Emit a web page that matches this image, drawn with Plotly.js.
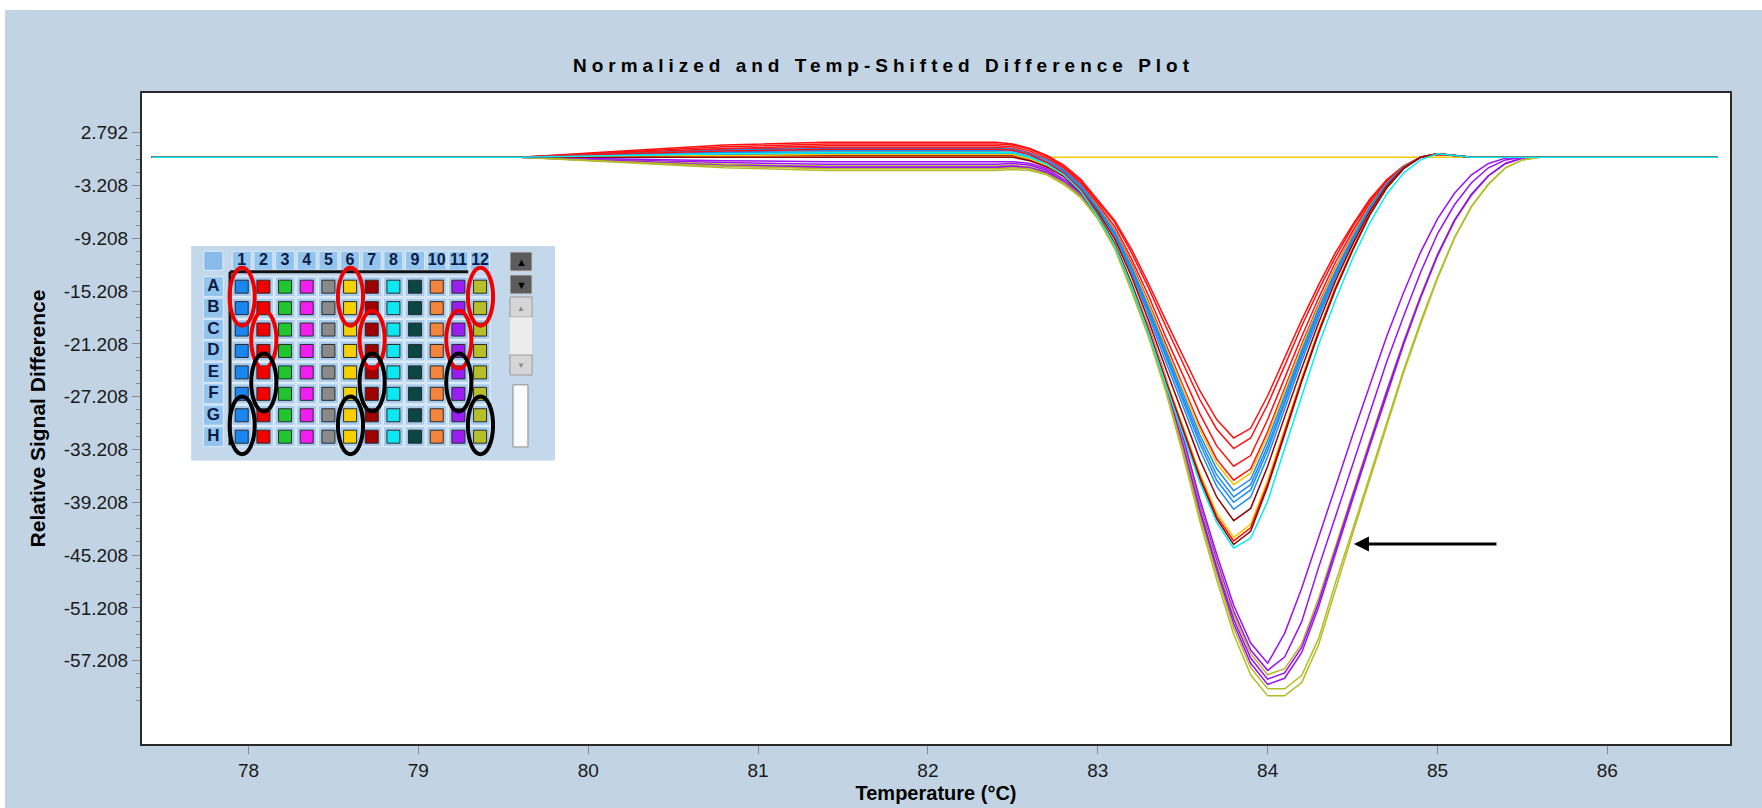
<!DOCTYPE html>
<html>
<head>
<meta charset="utf-8">
<script src="https://cdn.plot.ly/plotly-3.0.1.min.js"></script>
<style>
html,body{margin:0;padding:0;background:#ffffff;width:1762px;height:808px;overflow:hidden}
#chart{position:absolute;left:5px;top:10px;width:1757px;height:798px}
.gtitle{letter-spacing:5px}
</style>
</head>
<body>
<div id="chart"></div>
<script>
// ---------- data ----------
const temperature = [77.43,79.6,80.2,80.8,81.4,82.0,82.4,82.5,82.6,82.7,82.8,82.9,83.0,83.1,83.2,83.3,83.4,83.5,83.6,83.7,83.8,83.9,84.0,84.1,84.2,84.3,84.4,84.5,84.6,84.7,84.8,84.9,85.0,85.1,85.2,85.3,85.4,85.5,85.6,86.65];

const goldFlat = [0,0,0,0,0,0,0,0,0,0,0,0,0,0,0,0,0,0,0,0,0,0,0,0,0,0,0,0,0,0,0,0,0,0,0,0,0,0,0,0];

const purple1 = [0,0,-0.2,-0.4,-0.5,-0.5,-0.5,-0.5,-0.7,-1.3,-2.5,-4.1,-6.6,-9.8,-14.4,-19.3,-25.0,-31.6,-38.8,-45.1,-50.9,-55.2,-57.5,-54.1,-49.0,-43.1,-37.4,-31.6,-25.9,-20.4,-15.4,-10.8,-7.0,-4.1,-2.0,-0.7,-0.1,0,0,0];
const purple2 = [0,0,-0.3,-0.6,-0.8,-0.8,-0.8,-0.7,-0.9,-1.5,-2.7,-4.2,-6.7,-9.9,-14.6,-19.5,-25.4,-32.1,-39.4,-45.8,-51.6,-56.0,-58.3,-56.8,-52.8,-46.6,-40.8,-35.0,-29.2,-23.3,-18.1,-13.1,-8.7,-5.4,-2.9,-1.2,-0.3,0,0,0];
const olive1  = [0,0,-0.4,-0.8,-1.0,-1.0,-1.0,-0.9,-1.1,-1.7,-2.8,-4.3,-6.8,-10.0,-14.7,-19.7,-25.6,-32.3,-39.7,-46.2,-52.0,-56.4,-58.8,-58.1,-55.3,-50.1,-44.1,-38.2,-32.3,-26.5,-20.9,-15.7,-11.0,-7.1,-4.2,-2.1,-0.7,-0.1,0,0];
const purple3 = [0,0,-0.4,-0.9,-1.1,-1.1,-1.1,-1.0,-1.2,-1.7,-2.8,-4.4,-6.8,-10.1,-14.8,-19.9,-25.8,-32.6,-40.0,-46.6,-52.5,-56.9,-59.3,-58.6,-55.7,-50.6,-44.5,-38.5,-32.6,-26.7,-21.1,-15.9,-11.1,-7.2,-4.2,-2.1,-0.7,-0.1,0,0];
const purple4 = [0,0,-0.5,-1.0,-1.2,-1.2,-1.2,-1.1,-1.3,-1.8,-2.9,-4.4,-6.9,-10.2,-15.0,-20.1,-26.1,-32.9,-40.4,-47.0,-53.0,-57.5,-59.9,-59.2,-56.3,-51.1,-44.9,-38.9,-32.9,-27.0,-21.3,-16.0,-11.2,-7.2,-4.3,-2.1,-0.7,-0.1,0,0];
const olive2  = [0,0,-0.5,-1.0,-1.3,-1.3,-1.3,-1.2,-1.3,-1.9,-2.9,-4.5,-6.9,-10.3,-15.1,-20.2,-26.3,-33.2,-40.8,-47.4,-53.5,-58.0,-60.4,-60.4,-58.9,-54.7,-48.3,-42.3,-36.2,-30.2,-24.2,-18.7,-13.6,-9.1,-5.6,-3.0,-1.2,-0.3,0,0];
const olive3  = [0,0,-0.6,-1.2,-1.5,-1.5,-1.5,-1.4,-1.5,-2.0,-3.1,-4.6,-7.0,-10.4,-15.3,-20.5,-26.6,-33.7,-41.3,-48.0,-54.2,-58.8,-61.2,-61.2,-59.7,-55.4,-49.0,-42.8,-36.7,-30.6,-24.5,-19.0,-13.8,-9.2,-5.6,-3.1,-1.2,-0.3,0,0];

const red1    = [0,0,0.7,1.4,1.7,1.7,1.7,1.5,1.0,0.2,-0.9,-2.5,-4.8,-7.2,-10.5,-14.4,-18.5,-22.5,-26.5,-29.8,-31.9,-30.8,-27.1,-22.8,-18.5,-14.5,-10.8,-7.7,-4.8,-2.6,-1.0,0,0.3,0.2,0,0,0,0,0,0];
const red2    = [0,0,0.6,1.2,1.5,1.5,1.5,1.4,0.9,0.1,-1.1,-2.7,-5.0,-7.4,-10.9,-14.9,-19.2,-23.3,-27.5,-30.9,-33.1,-31.9,-28.1,-23.7,-19.2,-15.1,-11.3,-7.9,-5.0,-2.6,-1.0,0,0.3,0.2,0,0,0,0,0,0];
const red3    = [0,0,0.5,1.0,1.3,1.3,1.3,1.2,0.7,-0.1,-1.2,-2.9,-5.3,-7.9,-11.6,-15.8,-20.4,-24.7,-29.1,-32.8,-35.1,-33.9,-29.8,-25.1,-20.4,-16.0,-11.9,-8.4,-5.3,-2.8,-1.1,0,0.3,0.2,0,0,0,0,0,0];
const red4    = [0,0,0.4,0.9,1.1,1.1,1.1,1.0,0.5,-0.3,-1.4,-3.1,-5.5,-8.3,-12.1,-16.5,-21.3,-25.9,-30.5,-34.3,-36.7,-35.4,-31.2,-26.2,-21.3,-16.7,-12.5,-8.8,-5.5,-2.9,-1.1,0,0.4,0.2,0,0,0,0,0,0];
const gold2   = [0,0,0.2,0.5,0.6,0.6,0.6,0.5,0.1,-0.6,-1.6,-3.2,-5.6,-8.4,-12.3,-16.7,-21.6,-26.2,-30.9,-34.8,-37.2,-35.9,-31.6,-26.6,-21.6,-16.9,-12.6,-8.9,-5.6,-3.0,-1.1,0,0.4,0.2,0,0,0,0,0,0];
const blue1   = [0,0,0.4,0.8,1.0,1.0,1.0,0.9,0.4,-0.3,-1.5,-3.2,-5.7,-8.5,-12.5,-17.1,-22.0,-26.7,-31.5,-35.4,-37.9,-36.6,-32.2,-27.1,-22.0,-17.2,-12.9,-9.1,-5.7,-3.0,-1.1,0,0.4,0.2,0,0,0,0,0,0];
const blue2   = [0,0,0.3,0.6,0.8,0.8,0.8,0.7,0.3,-0.5,-1.6,-3.3,-5.8,-8.7,-12.7,-17.4,-22.4,-27.2,-32.0,-36.1,-38.6,-37.2,-32.8,-27.6,-22.4,-17.6,-13.1,-9.3,-5.8,-3.1,-1.2,0,0.4,0.2,0,0,0,0,0,0];
const blue3   = [0,0,0.2,0.5,0.6,0.6,0.6,0.5,0.1,-0.6,-1.7,-3.4,-5.9,-8.8,-12.9,-17.6,-22.7,-27.6,-32.5,-36.7,-39.2,-37.8,-33.3,-28.0,-22.7,-17.8,-13.3,-9.4,-5.9,-3.1,-1.2,0,0.4,0.2,0,0,0,0,0,0];
const blue4   = [0,0,0.2,0.3,0.4,0.4,0.4,0.4,-0.1,-0.8,-1.8,-3.5,-6.0,-9.0,-13.2,-18.0,-23.2,-28.2,-33.2,-37.4,-40.0,-38.6,-34.0,-28.6,-23.2,-18.2,-13.6,-9.6,-6.0,-3.2,-1.2,0,0.4,0.2,0,0,0,0,0,0];
const maroon1 = [0,0,0.1,0.2,0.2,0.2,0.2,0.2,-0.3,-0.9,-2.0,-3.7,-6.2,-9.3,-13.6,-18.6,-24.0,-29.1,-34.3,-38.6,-41.3,-39.9,-35.1,-29.5,-24.0,-18.8,-14.0,-9.9,-6.2,-3.3,-1.2,0,0.4,0.2,0,0,0,0,0,0];
const gold1   = [0,0,0.1,0.2,0.3,0.3,0.3,0.3,-0.2,-0.9,-2.0,-3.8,-6.5,-9.7,-14.3,-19.4,-25.1,-30.5,-35.9,-40.4,-43.2,-41.7,-36.7,-30.9,-25.1,-19.7,-14.7,-10.4,-6.5,-3.5,-1.3,0,0.4,0.2,0,0,0,0,0,0];
const red5    = [0,0,0.4,0.7,0.9,0.9,0.9,0.8,0.3,-0.6,-1.8,-3.7,-6.5,-9.8,-14.4,-19.6,-25.3,-30.7,-36.2,-40.8,-43.6,-42.1,-37.1,-31.2,-25.3,-19.8,-14.8,-10.5,-6.5,-3.5,-1.3,0,0.4,0.2,0,0,0,0,0,0];
const maroon2 = [0,0,0,0,0,0,0,0,-0.4,-1.1,-2.2,-4.0,-6.6,-9.9,-14.5,-19.8,-25.5,-31.0,-36.5,-41.1,-44.0,-42.5,-37.4,-31.5,-25.5,-20.0,-15.0,-10.6,-6.6,-3.5,-1.3,0,0.4,0.2,0,0,0,0,0,0];
const cyan1   = [0,0,0.2,0.4,0.5,0.5,0.5,0.5,0,-0.8,-2.0,-3.9,-6.7,-10.0,-14.7,-20.0,-25.8,-31.3,-36.9,-41.5,-44.4,-43.3,-39.1,-33.1,-27.1,-21.3,-16.2,-11.5,-7.5,-4.2,-1.8,-0.3,0.4,0.2,0,0,0,0,0,0];

const seriesNames  = ['F6 (flat)','A11','B11','A12','C11','D11','B12','H12',
                      'A2','B2','C2','D2','A6','A1','B1','C1','D1','C7','B6','E2','D7','H8'];
const seriesValues = [goldFlat,purple1,purple2,olive1,purple3,purple4,olive2,olive3,
                      red1,red2,red3,red4,gold2,blue1,blue2,blue3,blue4,maroon1,gold1,red5,maroon2,cyan1];
const seriesColors = ['#f7cc00','#9b10f5','#9b10f5','#b4bc28','#9b10f5','#9b10f5','#b4bc28','#b4bc28',
                      '#ff1010','#ff1010','#ff1010','#ff1010','#f7c400','#1e8cf0','#1e8cf0','#1e8cf0','#1e8cf0','#990000','#f7c800','#ff1010','#990000','#00f0f8'];

const xTickVals = [78,79,80,81,82,83,84,85,86];
const xTickText = ['78','79','80','81','82','83','84','85','86'];
const yTickVals = [2.792,-3.208,-9.208,-15.208,-21.208,-27.208,-33.208,-39.208,-45.208,-51.208,-57.208];
const yTickText = ['2.792','-3.208','-9.208','-15.208','-21.208','-27.208','-33.208','-39.208','-45.208','-51.208','-57.208'];

// plate inset
const plateColumns = [1,2,3,4,5,6,7,8,9,10,11,12];
const plateRows = ['A','B','C','D','E','F','G','H'];
const columnColors = ['#1a86f0','#f20000','#1fc62e','#f01ff0','#8a8a8a','#f6d000','#9c0000','#0ce8f2','#0a4644','#f5843c','#9b1ef0','#b6be2a'];
const redCircled   = [[1,'A','B'],[2,'C','D'],[6,'A','B'],[7,'C','D'],[11,'C','D'],[12,'A','B']];
const blackCircled = [[1,'G','H'],[2,'E','F'],[6,'G','H'],[7,'E','F'],[11,'E','F'],[12,'G','H']];

// ---------- build ----------
const sans = '"Liberation Sans", Arial, "DejaVu Sans", sans-serif';

const traces = [];
seriesValues.forEach((vals, i) => {
  traces.push({type:'scatter', mode:'lines', x: temperature, y: vals, name: seriesNames[i],
    line:{color: seriesColors[i], width:1.5}, showlegend:false});
});

const HEADER_ROW = -0.21, HEADER_COL = -0.31;
const rowIndex = r => plateRows.indexOf(r) + 1;
const wx = [], wy = [], wc = [];
plateRows.forEach((r, ri) => plateColumns.forEach((c, ci) => { wx.push(c); wy.push(ri + 1); wc.push(columnColors[ci]); }));

traces.push({type:'scatter', mode:'markers', x: wx, y: wy, xaxis:'x2', yaxis:'y2', hoverinfo:'skip', showlegend:false,
  marker:{symbol:'square', size:20, color:'#a6cbed', line:{color:'#e9f3fc', width:1}}});
traces.push({type:'scatter', mode:'markers', x: wx, y: wy, xaxis:'x2', yaxis:'y2', showlegend:false,
  text: wy.map((r,i)=>plateRows[r-1]+wx[i]), hoverinfo:'text',
  marker:{symbol:'square', size:13, color: wc, line:{color:'#2a2a2a', width:1}}});
traces.push({type:'scatter', mode:'markers+text', x: plateColumns, y: plateColumns.map(()=>HEADER_ROW), xaxis:'x2', yaxis:'y2',
  hoverinfo:'skip', showlegend:false, text: plateColumns.map(String), textposition:'middle center',
  textfont:{family: sans, size:16, color:'#0b1b45', weight:'bold'},
  marker:{symbol:'square', size:19, color:'#93c4ee', line:{color:'#dcecfa', width:1}}});
traces.push({type:'scatter', mode:'markers+text', x: plateRows.map(()=>HEADER_COL), y: plateRows.map((r,i)=>i+1), xaxis:'x2', yaxis:'y2',
  hoverinfo:'skip', showlegend:false, text: plateRows, textposition:'middle center',
  textfont:{family: sans, size:17, color:'#0b1b45', weight:'bold'},
  marker:{symbol:'square', size:20, color:'#93c4ee', line:{color:'#dcecfa', width:1}}});
traces.push({type:'scatter', mode:'markers', x:[HEADER_COL], y:[HEADER_ROW], xaxis:'x2', yaxis:'y2', hoverinfo:'skip', showlegend:false,
  marker:{symbol:'square', size:19, color:'#86bbea', line:{color:'#dcecfa', width:1}}});

const shapes = [];
shapes.push({type:'rect', xref:'x2', yref:'y2', x0:-1.338, x1:15.46, y0:-0.90, y1:9.12, fillcolor:'#c4d8ec', line:{width:0}, layer:'below'});
shapes.push({type:'line', xref:'x2', yref:'y2', x0:0.46, x1:0.46, y0:0.30, y1:8.40, line:{color:'#111', width:3}});
shapes.push({type:'line', xref:'x2', yref:'y2', x0:0.46, x1:11.45, y0:0.30, y1:0.30, line:{color:'#111', width:3}});
shapes.push({type:'rect', xref:'x2', yref:'y2', x0:13.38, x1:14.40, y0:-0.62, y1:0.27, fillcolor:'#5c5c5c', line:{color:'#d0d0d0', width:1}});
shapes.push({type:'rect', xref:'x2', yref:'y2', x0:13.38, x1:14.40, y0:0.45, y1:1.34, fillcolor:'#5c5c5c', line:{color:'#d0d0d0', width:1}});
shapes.push({type:'rect', xref:'x2', yref:'y2', x0:13.38, x1:14.40, y0:1.48, y1:2.42, fillcolor:'#d6d6d6', line:{color:'#9a9a9a', width:1}});
shapes.push({type:'rect', xref:'x2', yref:'y2', x0:13.38, x1:14.40, y0:2.42, y1:4.19, fillcolor:'#ececec', line:{width:0}});
shapes.push({type:'rect', xref:'x2', yref:'y2', x0:13.38, x1:14.40, y0:4.19, y1:5.12, fillcolor:'#d6d6d6', line:{color:'#9a9a9a', width:1}});
shapes.push({type:'rect', xref:'x2', yref:'y2', x0:13.52, x1:14.21, y0:5.58, y1:8.48, fillcolor:'#fafafa', line:{color:'#8c8c8c', width:1}});
function ellipse(item, color) {
  const c = item[0], r1 = rowIndex(item[1]), r2 = rowIndex(item[2]);
  return {type:'circle', xref:'x2', yref:'y2', x0:c-0.56, x1:c+0.6, y0:r1-0.88, y1:r2+0.82,
    line:{color: color, width:4}, fillcolor:'rgba(0,0,0,0)'};
}
redCircled.forEach(it => shapes.push(ellipse(it, '#ee0000')));
blackCircled.forEach(it => shapes.push(ellipse(it, '#000000')));

const annotations = [
  {xref:'x', yref:'y', axref:'x', ayref:'y', x:84.508, y:-43.95, ax:85.356, ay:-43.95, text:'', showarrow:true,
   arrowhead:2, arrowsize:1, arrowwidth:3, arrowcolor:'#000'},
  {xref:'x2', yref:'y2', x:13.89, y:-0.17, text:'▲', showarrow:false, font:{size:11, color:'#000'}},
  {xref:'x2', yref:'y2', x:13.89, y:0.90, text:'▼', showarrow:false, font:{size:11, color:'#000'}},
  {xref:'x2', yref:'y2', x:13.89, y:1.95, text:'▲', showarrow:false, font:{size:8, color:'#8a8a8a'}},
  {xref:'x2', yref:'y2', x:13.89, y:4.65, text:'▼', showarrow:false, font:{size:8, color:'#8a8a8a'}}
];

const minorVals = [];
yTickVals.forEach(v => { minorVals.push(v - 1.5, v - 3, v - 4.5); });
const minorY = minorVals.filter(v => v > -62);

const layout = {
  width:1757, height:798,
  paper_bgcolor:'#c2d4e4', plot_bgcolor:'#ffffff',
  margin:{l:137, r:32, t:83, b:64, pad:0},
  showlegend:false,
  title:{text:'Normalized and Temp-Shifted Difference Plot', x:0.5, xref:'container', xanchor:'center',
         y:0.931, yref:'container', yanchor:'middle',
         font:{family: sans, size:19, color:'#000', weight:'bold'}},
  xaxis:{range:[77.373, 86.722], tickmode:'array', tickvals:xTickVals, ticktext:xTickText,
         ticks:'outside', ticklen:8, tickwidth:1, tickcolor:'#8a8a8a',
         showline:true, linecolor:'#2b2b2b', linewidth:2, mirror:true, showgrid:false, zeroline:false,
         tickfont:{family: sans, size:19, color:'#1a1a1a'},
         title:{text:'Temperature (°C)', font:{family: sans, size:20, color:'#000', weight:'bold'}, standoff:6}},
  yaxis:{range:[-66.67, 7.30], tickmode:'array', tickvals:yTickVals, ticktext:yTickText,
         ticks:'outside', ticklen:8, tickwidth:1, tickcolor:'#8a8a8a',
         minor:{tickmode:'array', tickvals:minorY, ticks:'outside', ticklen:4, tickcolor:'#8a8a8a', tickwidth:1, showgrid:false},
         showline:true, linecolor:'#2b2b2b', linewidth:2, mirror:true, showgrid:false, zeroline:false,
         tickfont:{family: sans, size:19, color:'#1a1a1a'},
         title:{text:'Relative Signal Difference', font:{family: sans, size:21, color:'#000', weight:'bold'}, standoff:12}},
  xaxis2:{domain:[0.0309, 0.2601], range:[-1.338, 15.46], visible:false, anchor:'y2', fixedrange:true},
  yaxis2:{domain:[0.4352, 0.7650], range:[9.12, -0.90], visible:false, anchor:'x2', fixedrange:true},
  shapes: shapes,
  annotations: annotations
};

Plotly.newPlot('chart', traces, layout, {displayModeBar:false, responsive:false});
</script>
</body>
</html>
